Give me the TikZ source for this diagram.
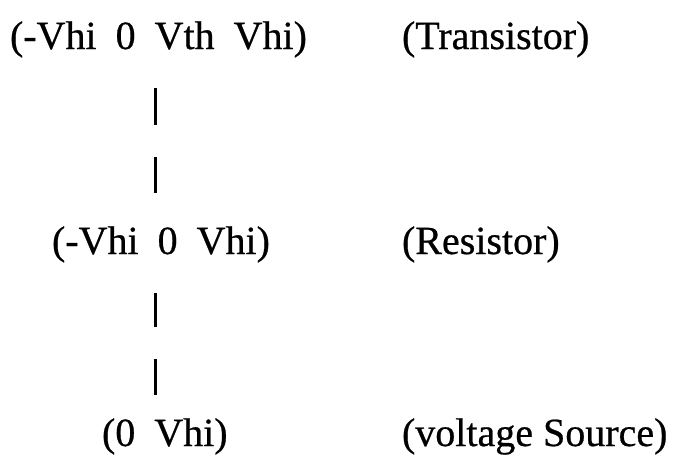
\documentclass[tikz,border=0pt]{standalone}
\usepackage{fontspec}
\setmainfont{Liberation Serif}[FakeBold=0.6]
\begin{document}
\begin{tikzpicture}[x=1pt,y=-1pt,
  lbl/.style={anchor=base west,inner sep=0pt,outer sep=0pt,font=\fontsize{40}{48}\selectfont},
  bar/.style={line width=3pt}]
\useasboundingbox (0,0) rectangle (673,459);
\newcommand{\gp}{\hspace{19pt}}
% left column
\node[lbl] (t1) at (10,49) {(-Vhi\gp 0\gp Vth\gp Vhi)};
\node[lbl] (t2) at (52,254) {(-Vhi\gp 0\gp Vhi)};
\node[lbl] (t3) at (102,446) {(0\gp Vhi)};
% right column
\node[lbl] (r1) at (402,49) {(Transistor)};
\node[lbl] (r2) at (402,254) {(Resistor)};
\node[lbl] (r3) at (402,446) {(voltage Source)};
% connector bars
\coordinate (a1) at (155.5,88);  \coordinate (a2) at (155.5,125);
\coordinate (b1) at (155.5,157); \coordinate (b2) at (155.5,193);
\coordinate (c1) at (155.5,293); \coordinate (c2) at (155.5,327);
\coordinate (d1) at (155.5,359); \coordinate (d2) at (155.5,395);
\draw[bar] (a1) -- (a2);
\draw[bar] (b1) -- (b2);
\draw[bar] (c1) -- (c2);
\draw[bar] (d1) -- (d2);
\end{tikzpicture}
\end{document}
